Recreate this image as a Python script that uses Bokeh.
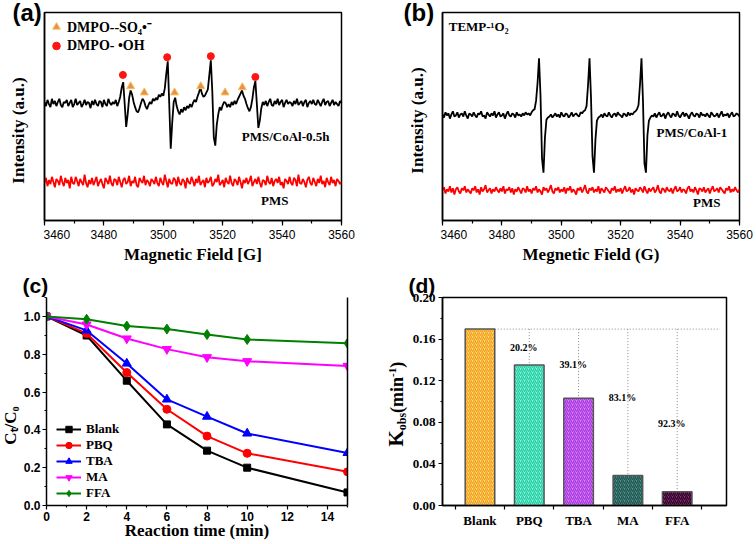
import math
import numpy as np
from bokeh.plotting import figure
from bokeh.models import (Range1d, LinearAxis, SingleIntervalTicker, FixedTicker, Label, Title,
                          Legend, LegendItem, ColumnDataSource, NumeralTickFormatter)
from bokeh.layouts import column, row
from bokeh.embed import file_html
from bokeh.resources import INLINE

# ---------------- data ----------------
# (a) EPR, DMPO adducts, field 3460..3560 G sampled every 0.5 G (intensity, a.u.)
field_a = (3460, 3560)
epr_a_black = [
    114, 110, 116, 112, 109, 117, 112, 115, 110, 114,
    117, 111, 109, 114, 113, 116, 110, 113, 116, 109,
    112, 117, 111, 113, 115, 109, 112, 116, 111, 114,
    113, 108, 115, 111, 116, 112, 110, 115, 114, 109,
    116, 112, 110, 117, 113, 111, 114, 112, 116, 110,
    114,
    119, 128, 133, 112, 90, 102, 118, 125, 121, 114,
    109, 105, 104, 108, 113, 117, 115, 110, 107, 111,
    114, 112, 117, 115, 118, 116, 121, 119, 122, 120,
    127, 141, 153, 112, 69, 94, 114, 118, 110, 105,
    102, 107, 104, 109, 106, 110, 108, 112, 109, 113,
    116, 114, 119, 123, 128, 122, 119, 120, 123, 126,
    140, 154, 124, 80, 72, 92, 102, 109, 106, 111,
    114, 113, 109, 112, 109, 114, 111, 115, 112, 116,
    119, 122, 125, 120, 117, 112, 108, 105, 109, 117,
    128, 134, 112, 89, 96, 108, 114, 111,
    115, 110, 114, 117, 111, 110, 115, 112, 117, 111,
    114, 116, 109, 113, 116, 112, 114, 113, 110, 115,
    112, 117, 111, 113, 115, 110, 114, 116, 109, 113,
    115, 112, 116, 112, 111, 116, 113, 110, 114, 117,
    111, 114, 115, 110, 113, 116, 111, 114, 112, 110,
    115, 113,
]
epr_a_red = [
    36, 41, 33, 39, 35, 42, 37, 32, 40, 38, 34, 43, 37, 33, 41, 36, 39, 31, 42, 36,
    35, 42, 38, 33, 40, 37, 34, 44, 36, 32, 39, 35, 41, 34, 38, 42, 33, 37, 40, 35,
    31, 41, 38, 35, 43, 36, 33, 40, 39, 34, 42, 37, 32, 39, 41, 35, 37, 43, 33, 38,
    36, 42, 34, 32, 41, 38, 36, 43, 34, 39, 37, 33, 40, 38, 35, 42, 36, 33, 41, 37,
    34, 44, 38, 32, 40, 36, 35, 41, 39, 33, 42, 36, 34, 40, 38, 31, 41, 37, 35, 42,
    38, 33, 40, 36, 43, 34, 37, 39, 32, 41, 36, 38, 42, 33, 35, 40, 37, 44, 34, 36,
    39, 32, 41, 37, 35, 43, 36, 33, 40, 38, 34, 42, 37, 31, 39, 36, 41, 35, 38, 43,
    33, 37, 40, 35, 42, 36, 32, 39, 38, 34, 43, 37, 35, 41, 33, 38, 40, 36, 42, 34,
    37, 31, 40, 38, 35, 42, 36, 34, 41, 39, 33, 44, 36, 35, 40, 37, 32, 39, 42, 36,
    34, 41, 37, 33, 40, 36, 43, 35, 38, 32, 41, 37, 34, 42, 36, 39, 33, 40, 38, 35,
    37,
]
oh_field = [3486.4, 3501.3, 3516.0, 3531.0]
oh_level = [140, 157, 158, 138]
so4_field = [3489.0, 3493.6, 3503.8, 3512.6, 3520.8, 3526.6]
so4_level = [129, 123, 123, 129, 123, 128]

# (b) EPR, TEMP-1O2, field 3460..3560 G sampled every 0.5 G
field_b = (3460, 3560)
epr_b_black = [
    102, 99, 104, 101, 103, 98, 102, 105, 100, 101, 104, 99, 102, 103, 100, 105, 101, 98, 103, 102,
    100, 104, 101, 99, 103, 102, 105, 100, 101, 98, 104, 102, 100, 103, 101, 105, 99, 102, 104, 100,
    101, 103, 98, 102, 105, 101, 100, 103, 102, 99, 104, 101, 102, 100, 103, 101, 104, 102, 103, 101,
    104, 106,
    107, 115, 132, 156, 120, 60, 46, 80, 97, 99,
    100, 102, 99, 101, 103, 100, 102, 99, 104, 101, 100, 103, 102, 99, 101, 104, 100, 102, 103, 101,
    100, 104, 103, 105,
    106, 110, 130, 156, 118, 62, 46, 78, 96, 99,
    100, 102, 99, 103, 101, 100, 104, 101, 99, 102, 103, 100, 104, 102, 101, 99, 103, 102, 100, 104,
    101, 103, 102, 104, 105,
    107, 111, 131, 156, 115, 55, 46, 82, 96, 99,
    101, 100, 103, 99, 102, 104, 100, 101, 103, 98, 102, 104, 101, 99, 103, 102, 100, 105, 101, 99,
    102, 104, 100, 103, 101, 98, 102, 104, 101, 100, 103, 102, 99, 104, 101, 102, 100, 103, 101, 99,
    104, 102, 100, 101, 103, 99, 102, 105, 100, 102, 101, 103, 99, 102, 104, 100, 101, 103, 102, 100,
]
epr_b_red = [
    29, 32, 26, 30, 28, 33, 27, 31, 25, 30, 32, 28, 26, 31, 29, 33, 27, 30, 28, 26,
    31, 29, 33, 27, 30, 25, 32, 28, 30, 34, 27, 29, 31, 26, 30, 28, 32, 29, 27, 31,
    28, 33, 26, 30, 29, 32, 27, 31, 25, 30, 28, 32, 29, 26, 31, 30, 27, 33, 28, 30,
    26, 31, 29, 33, 27, 30, 28, 25, 32, 29, 31, 27, 30, 34, 28, 26, 31, 29, 32, 27,
    30, 28, 32, 26, 31, 29, 33, 27, 30, 28, 25, 31, 29, 32, 27, 30, 34, 28, 26, 31,
    29, 32, 27, 30, 28, 33, 26, 31, 29, 27, 32, 30, 28, 26, 31, 29, 33, 27, 30, 28,
    31, 26, 30, 33, 28, 29, 32, 27, 30, 25, 31, 29, 28, 32, 30, 27, 33, 29, 26, 31,
    28, 30, 32, 27, 29, 34, 28, 26, 31, 30, 27, 32, 29, 28, 31, 26, 30, 33, 28, 29,
    32, 27, 30, 29, 26, 31, 33, 28, 30, 27, 32, 29, 25, 31, 30, 28, 32, 27, 29, 31,
    26, 30, 33, 28, 29, 31, 27, 32, 30, 28, 26, 31, 29, 33, 27, 30, 28, 32, 29, 27,
    30,
]

# (c) kinetics
time_min = [0, 2, 4, 6, 8, 10, 15]
series_names = ["Blank", "PBQ", "TBA", "MA", "FFA"]
ct_blank = [1.0, 0.899, 0.660, 0.429, 0.290, 0.200, 0.069]
ct_pbq = [1.0, 0.910, 0.703, 0.509, 0.367, 0.276, 0.178]
ct_tba = [1.0, 0.926, 0.751, 0.561, 0.470, 0.381, 0.278]
ct_ma = [1.0, 0.957, 0.883, 0.827, 0.784, 0.763, 0.738]
ct_ffa = [1.0, 0.985, 0.949, 0.933, 0.904, 0.878, 0.858]
c_ticks_x = [0, 2, 4, 6, 8, 10, 12, 14]
c_ticks_y = [0.0, 0.2, 0.4, 0.6, 0.8, 1.0]

# (d) rate constants
categories = ["Blank", "PBQ", "TBA", "MA", "FFA"]
kobs = [0.1696, 0.1352, 0.1031, 0.0288, 0.0132]
inhibition = ["20.2%", "39.1%", "83.1%", "92.3%"]
d_ticks_y = [0.0, 0.04, 0.08, 0.12, 0.16, 0.20]

# ---------------- style ----------------
SERIF = "Liberation Serif"
SANS = "Liberation Sans"
TOP_B = (12, 52)      # shared top / bottom border of the upper row
BOT_B = (25, 39)      # shared top / bottom border of the lower row


def base_fig(w, h, xr, yr, mb):
    p = figure(width=w, height=h, x_range=xr, y_range=yr, output_backend="svg",
               toolbar_location=None,
               min_border_left=mb[0], min_border_right=mb[1],
               min_border_top=mb[2], min_border_bottom=mb[3])
    p.title.visible = False
    p.grid.visible = False
    p.outline_line_color = "black"
    p.outline_line_width = 1.5
    p.background_fill_color = "white"
    p.border_fill_color = "white"
    for ax in p.axis:
        ax.axis_line_color = "black"
        ax.axis_line_width = 1.5
        ax.major_tick_line_color = "black"
        ax.minor_tick_line_color = "black"
        ax.major_tick_line_width = 1.2
        ax.minor_tick_line_width = 1.2
        ax.major_label_text_color = "black"
        ax.axis_label_text_color = "black"
        ax.axis_label_text_font = SERIF
        ax.axis_label_text_font_style = "bold"
        ax.axis_label_text_font_size = "17px"
        ax.major_tick_in = 0
        ax.minor_tick_in = 0
    return p


def side_fig(w, h, borders=(0, 0)):
    """Drawing area for margin texts; data units = pixels from the canvas bottom-left."""
    top, bottom = borders
    f = figure(width=w, height=h, x_range=Range1d(0, w), y_range=Range1d(bottom, h - top),
               output_backend="svg", toolbar_location=None,
               x_axis_type=None, y_axis_type=None,
               min_border_left=0, min_border_right=0,
               min_border_top=top, min_border_bottom=bottom)
    f.title.visible = False
    f.outline_line_color = None
    f.background_fill_color = "white"
    f.border_fill_color = "white"
    return f


def stxt(f, x, y, text, size, font=SERIF, align="center", angle=0.0):
    f.add_layout(Label(x=x, y=y, text=text, text_font=font, text_font_style="bold",
                       text_font_size=size, text_align=align, text_baseline="middle",
                       angle=angle, text_color="black"))


def panel_title(f, text, offset, size="24px", valign="middle", standoff=-29):
    f.add_layout(Title(text=text, align="left", offset=offset, vertical_align=valign,
                       standoff=standoff, text_font=SANS, text_font_style="bold",
                       text_font_size=size, text_color="black"), "above")


def txt(p, x, y, text, size="13px", align="center"):
    p.add_layout(Label(x=x, y=y, text=text, text_font=SERIF, text_font_style="bold",
                       text_font_size=size, text_align=align, text_baseline="middle",
                       text_color="black"))


def epr_axes(p, xlabel):
    p.xaxis.ticker = SingleIntervalTicker(interval=20, num_minor_ticks=2)
    p.xaxis.major_tick_out = 5
    p.xaxis.minor_tick_out = 3
    p.xaxis.major_label_standoff = 4
    p.xaxis.major_label_text_font = SANS
    p.xaxis.major_label_text_font_size = "12px"
    p.xaxis.axis_label = xlabel
    p.xaxis.axis_label_standoff = 3
    p.yaxis.ticker = FixedTicker(ticks=[])
    p.yaxis.major_tick_out = 0
    p.yaxis.minor_tick_out = 0
    p.yaxis.major_label_standoff = 0


# ---------------- (a) ----------------
la = side_fig(43, 272, TOP_B)
panel_title(la, "(a)", 12)
stxt(la, 18, 142, "Intensity (a.u.)", "17px", angle=math.pi / 2)

pa = base_fig(335, 272, Range1d(*field_a), Range1d(0, 200), (1, 37) + TOP_B)
xa_k = np.linspace(field_a[0], field_a[1], len(epr_a_black))
xa_r = np.linspace(field_a[0], field_a[1], len(epr_a_red))
pa.line(xa_r, epr_a_red, line_color="#FF0000", line_width=1.8)
pa.line(xa_k, epr_a_black, line_color="black", line_width=1.8)
r_so4 = pa.scatter(so4_field, so4_level, marker="triangle", size=8,
                   fill_color="#EC8A58", line_color="#F2C44A", line_width=1)
r_oh = pa.scatter(oh_field, oh_level, marker="circle", size=7,
                  fill_color="#FF1414", line_color="#FF1414")
leg_a = Legend(items=[LegendItem(label="DMPO--SO₄•⁻", renderers=[r_so4]),
                      LegendItem(label="DMPO- •OH", renderers=[r_oh])],
               location=(2, 165), padding=0, margin=0, spacing=0,
               glyph_width=20, glyph_height=19, label_height=19, label_standoff=1,
               background_fill_alpha=0, border_line_color=None,
               label_text_font=SERIF, label_text_font_style="bold",
               label_text_font_size="14px", label_text_color="black")
pa.add_layout(leg_a)
epr_axes(pa, "Magnetic Field [G]")
txt(pa, 3541.2, 80.4, "PMS/CoAl-0.5h")
txt(pa, 3537.5, 19.1, "PMS")

# ---------------- (b) ----------------
lb = side_fig(62, 272, TOP_B)
panel_title(lb, "(b)", 25)
stxt(lb, 39, 152, "Intensity (a.u.)", "17px", angle=math.pi / 2)

pb = base_fig(316, 272, Range1d(*field_b), Range1d(0, 200), (2, 17) + TOP_B)
xb_k = np.linspace(field_b[0], field_b[1], len(epr_b_black))
xb_r = np.linspace(field_b[0], field_b[1], len(epr_b_red))
pb.line(xb_r, epr_b_red, line_color="#FF0000", line_width=1.8)
pb.line(xb_k, epr_b_black, line_color="black", line_width=1.8)
epr_axes(pb, "Megnetic Field (G)")
txt(pb, 3544.0, 84.3, "PMS/CoAl-1")
txt(pb, 3549.0, 17.0, "PMS")
txt(pb, 3462.1, 186.5, "TEMP-¹O₂", align="left")

# ---------------- (c) ----------------
lc = side_fig(20, 272, BOT_B)
stxt(lc, 10, 119, "Cₜ/C₀", "17px", angle=math.pi / 2)

pc = base_fig(358, 272, Range1d(0, 15), Range1d(0, 1.1), (25, 31) + BOT_B)
pc.outline_line_color = None
panel_title(pc, "(c)", -24, size="21px", valign="top", standoff=-2)
c_series = [ct_blank, ct_pbq, ct_tba, ct_ma, ct_ffa]
c_colors = ["black", "#FF0000", "#0000FF", "#FF00FF", "#008000"]
c_markers = ["square", "circle", "triangle", "inverted_triangle", "diamond"]
c_sizes = [7, 8, 9, 9, 10]
for name, yv, col, mk, sz in zip(series_names, c_series, c_colors, c_markers, c_sizes):
    pc.line(time_min, yv, line_color=col, line_width=2, legend_label=name)
    pc.scatter(time_min, yv, marker=mk, size=sz, fill_color=col, line_color=col,
               legend_label=name)
lg = pc.legend[0]
lg.location = (10, 4)
lg.padding = 0
lg.margin = 0
lg.spacing = 0
lg.glyph_width = 25
lg.glyph_height = 16
lg.label_height = 16
lg.label_standoff = 5
lg.background_fill_alpha = 0
lg.border_line_color = None
lg.label_text_font = SERIF
lg.label_text_font_style = "bold"
lg.label_text_font_size = "13px"
lg.label_text_color = "black"
pc.xaxis.ticker = FixedTicker(ticks=c_ticks_x, minor_ticks=[1, 3, 5, 7, 9, 11, 13, 15])
pc.yaxis.ticker = FixedTicker(ticks=c_ticks_y,
                              minor_ticks=[0.1, 0.3, 0.5, 0.7, 0.9, 1.1])
pc.yaxis.formatter = NumeralTickFormatter(format="0.0")
for ax in (pc.xaxis[0], pc.yaxis[0]):
    ax.major_tick_out = 4
    ax.minor_tick_out = 2
    ax.major_label_text_font = SANS
    ax.major_label_text_font_style = "bold"
    ax.major_label_text_font_size = "12px"
pc.xaxis.major_label_standoff = 2
pc.yaxis.major_label_standoff = 2
pc.xaxis.axis_label = "Reaction time (min)"
pc.xaxis.axis_label_standoff = -3
pc.add_layout(LinearAxis(ticker=FixedTicker(ticks=[]), major_tick_out=0, minor_tick_out=0,
                         major_label_standoff=0, axis_line_width=1.5,
                         axis_line_color="black"), "right")

# ---------------- (d) ----------------
ld = side_fig(30, 272, BOT_B)
# composite y title  K_obs(min^-1), read bottom to top
for t, x, y, s in [("K", 17.9, 98, "21px"), ("obs", 23.5, 114.3, "12px"),
                   ("(min", 18.9, 131.6, "18px"), ("-1", 14.3, 167.6, "11px"),
                   (")", 18.9, 176.8, "18px")]:
    stxt(ld, x, y, t, s, align="left", angle=math.pi / 2)

pd_ = base_fig(348, 272, Range1d(0.24, 6.0), Range1d(0, 0.2), (34, 30) + BOT_B)
panel_title(pd_, "(d)", -34, size="21px", valign="top", standoff=-2)
xpos = list(range(1, len(categories) + 1))
bar_fill = ["#FFE25E", "#7CFFDC", "#E47CFF", "#3E9E7E", "#A0207E"]
bar_hatch = ["#F29B2C", "#2CC8A2", "#A23CDC", "#2B4D58", "#1E0A1E"]
src_d = ColumnDataSource(dict(x=xpos, top=kobs, fill=bar_fill, hatch=bar_hatch))
ref = kobs[0]
pd_.segment(x0=[xpos[0] + 0.3], y0=[ref], x1=[5.87], y1=[ref],
            line_color="#888888", line_width=1, line_dash="1 2")
pd_.segment(x0=xpos[1:], y0=[ref] * (len(xpos) - 1), x1=xpos[1:], y1=kobs[1:],
            line_color="#888888", line_width=1, line_dash="1 2")
pd_.vbar(x="x", top="top", width=0.6, source=src_d, fill_color="fill",
         hatch_pattern="/", hatch_color="hatch", hatch_scale=4, hatch_weight=1.3,
         line_color="#555555", line_width=1.5)
pct_y = [0.1524, 0.1359, 0.1035, 0.0787]
for i, lab in enumerate(inhibition):
    txt(pd_, xpos[i + 1] - 0.11, pct_y[i], lab, size="10px")
pd_.xaxis.ticker = FixedTicker(ticks=xpos,
                               minor_ticks=[v - 0.5 for v in xpos] + [xpos[-1] + 0.5])
pd_.xaxis.major_label_overrides = {v: c for v, c in zip(xpos, categories)}
pd_.xaxis.major_tick_out = 0
pd_.xaxis.minor_tick_out = 4
pd_.xaxis.major_label_standoff = 3
pd_.yaxis.ticker = FixedTicker(ticks=d_ticks_y,
                               minor_ticks=[0.02, 0.06, 0.10, 0.14, 0.18])
pd_.yaxis.formatter = NumeralTickFormatter(format="0.00")
pd_.yaxis.major_tick_out = 4
pd_.yaxis.minor_tick_out = 2
pd_.yaxis.major_label_standoff = 3
for ax in (pd_.xaxis[0], pd_.yaxis[0]):
    ax.major_label_text_font = SERIF
    ax.major_label_text_font_style = "bold"
    ax.major_label_text_font_size = "13px"

layout = column(row(la, pa, lb, pb), row(lc, pc, ld, pd_))
open("out.html", "w").write(file_html(layout, INLINE))
